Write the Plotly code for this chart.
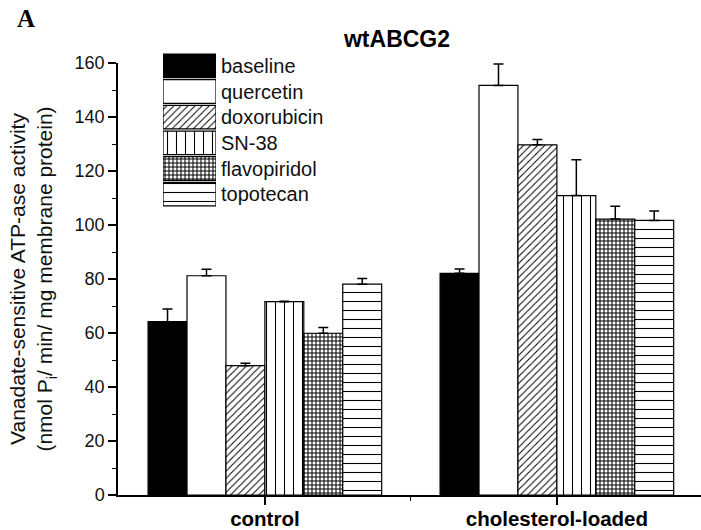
import plotly.graph_objects as go

# ---- data ----
categories = ["control", "cholesterol-loaded"]
series = ["baseline", "quercetin", "doxorubicin", "SN-38", "flavopiridol", "topotecan"]
values = {
    "baseline":     [64.2, 82.1],
    "quercetin":    [81.2, 151.7],
    "doxorubicin":  [47.9, 129.7],
    "SN-38":        [71.6, 110.9],
    "flavopiridol": [59.9, 102.2],
    "topotecan":    [78.1, 101.7],
}
errors = {
    "baseline":     [4.7, 1.6],
    "quercetin":    [2.4, 7.9],
    "doxorubicin":  [0.9, 2.0],
    "SN-38":        [0.2, 13.3],
    "flavopiridol": [2.1, 4.7],
    "topotecan":    [2.1, 3.5],
}
y_ticks = [0, 20, 40, 60, 80, 100, 120, 140, 160]

# ---- styles ----
fill_colors = {"baseline": "black"}
pattern_shape = {"doxorubicin": "/", "SN-38": "|", "flavopiridol": "+", "topotecan": "-"}
pattern_size = {"doxorubicin": 5, "SN-38": 9, "flavopiridol": 4, "topotecan": 9}
pattern_solid = {"doxorubicin": 0.2, "SN-38": 0.12, "flavopiridol": 0.45, "topotecan": 0.12}

FONT = "Liberation Sans, Arial, sans-serif"
xpos = list(range(len(categories)))


def bar_marker(s):
    marker = dict(color=fill_colors.get(s, "white"),
                  line=dict(color="black", width=1.2))
    if s in pattern_shape:
        marker["pattern"] = dict(shape=pattern_shape[s], size=pattern_size[s],
                                 solidity=pattern_solid[s], fgcolor="black",
                                 bgcolor="white", fillmode="replace")
    return marker


fig = go.Figure()
for s in series:
    fig.add_trace(go.Bar(
        x=xpos, y=values[s], name=s, marker=bar_marker(s), showlegend=False,
        error_y=dict(type="data", symmetric=False, array=errors[s],
                     arrayminus=[0] * len(categories), color="black",
                     thickness=1.5, width=5),
        xaxis="x", yaxis="y",
    ))

# legend drawn as a small bar panel with large swatches
for s in series:
    fig.add_trace(go.Bar(
        y=[s], x=[1], orientation="h", width=0.92, offsetgroup="legend",
        marker=bar_marker(s), name=s, showlegend=False, hoverinfo="y",
        xaxis="x2", yaxis="y2",
    ))

mids = [i + 0.5 for i in range(len(categories) - 1)]

fig.update_layout(
    width=701, height=530,
    margin=dict(l=118, r=0, t=50, b=35),
    plot_bgcolor="white", paper_bgcolor="white",
    barmode="group", bargap=0.2, bargroupgap=0,
    font=dict(family=FONT, color="#111", size=18),
    title=dict(text="<b>wtABCG2</b>", x=(397 - 118) / 583, xref="paper", xanchor="center",
               y=1 - 39 / 530, yref="container", yanchor="middle",
               font=dict(size=23, color="black")),
    xaxis=dict(
        range=[-0.503, -0.503 + 583 / 292], tickvals=xpos, ticktext=categories,
        showline=True, linecolor="black", linewidth=1.5,
        ticks="outside", ticklen=8, tickwidth=1.5, tickcolor="black",
        ticklabelstandoff=-3,
        tickfont=dict(size=20.5, color="black", family=FONT, weight="bold"),
        minor=dict(tickvals=mids, ticks="outside", ticklen=4, tickwidth=1.2, tickcolor="black"),
        showgrid=False, zeroline=False, fixedrange=True, automargin=False,
    ),
    yaxis=dict(
        domain=[0, 432 / 445], range=[0, 160], tickvals=y_ticks,
        showline=True, linecolor="black", linewidth=1.5,
        ticks="outside", ticklen=8, tickwidth=1.5, tickcolor="black",
        minor=dict(dtick=10, ticks="outside", ticklen=4, tickwidth=1.2, tickcolor="black"),
        tickfont=dict(size=18, color="#111"),
        title=dict(text="Vanadate-sensitive ATP-ase activity<br>(nmol P<sub>i</sub>/ min/ mg membrane protein)",
                   font=dict(size=21, color="#111"), standoff=16),
        showgrid=False, zeroline=False, automargin=False, fixedrange=True,
    ),
    xaxis2=dict(domain=[(163 - 118) / 583, (216 - 118) / 583], range=[0, 1],
                visible=False, anchor="y2", fixedrange=True, automargin=False),
    yaxis2=dict(domain=[(495 - 207) / 445, (495 - 53) / 445], anchor="x2",
                side="right", autorange="reversed", showline=False, ticks="",
                ticklabelstandoff=4,
                showgrid=False, zeroline=False, fixedrange=True, automargin=False,
                tickfont=dict(size=20, color="#111")),
    annotations=[dict(text="<b>A</b>", x=(26 - 118) / 583, y=(495 - 19) / 445,
                      xref="paper", yref="paper", showarrow=False,
                      xanchor="center", yanchor="middle",
                      font=dict(family="Liberation Serif, Times New Roman, serif",
                                size=25, color="black"))],
)

fig.write_html("out.html", config={"displayModeBar": False},
               post_script="document.body.style.margin='0';")
